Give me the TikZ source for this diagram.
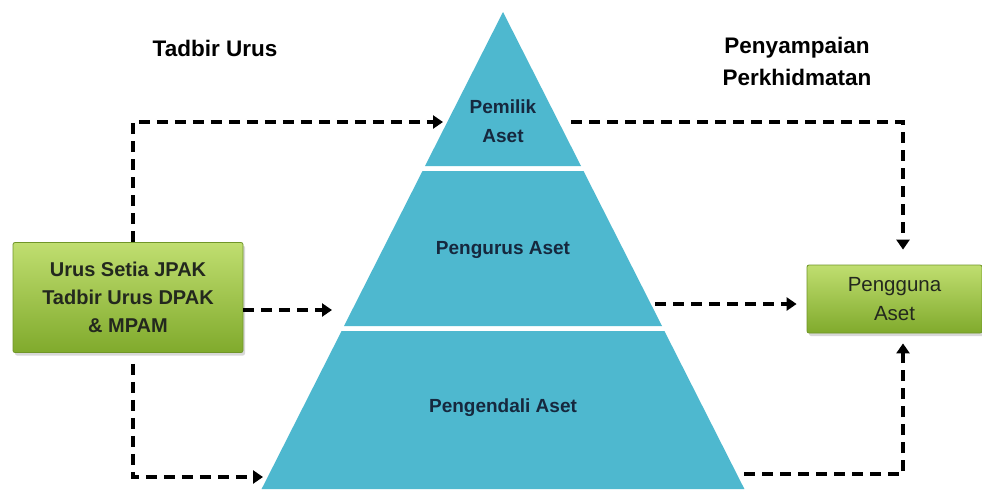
\documentclass[tikz,border=0pt]{standalone}
\usepackage{fontspec}
\setmainfont{Liberation Sans}
\usetikzlibrary{arrows.meta,shadows}
\definecolor{pyr}{RGB}{78,184,207}
\definecolor{pyrtext}{RGB}{22,40,62}
\definecolor{gtop}{RGB}{192,222,112}
\definecolor{gbot}{RGB}{128,170,44}
\definecolor{gborder}{RGB}{112,150,40}
\definecolor{boxtext}{RGB}{35,40,30}
\begin{document}
\begin{tikzpicture}[x=1pt,y=-1pt,
  tier/.style={fill=pyr,draw=none},
  flow/.style={line width=4.4pt,dash pattern=on 11pt off 7pt,
    -{Triangle[length=10pt,width=13pt]}},
  greenbox/.style={draw=gborder,line width=0.8pt,top color=gtop,bottom color=gbot,
    rounded corners=2pt,drop shadow={shadow xshift=2pt,shadow yshift=-3pt,opacity=0.3}},
  heading/.style={font=\bfseries\fontsize{22.5}{32}\selectfont,align=center,text=black},
  tierlabel/.style={font=\bfseries\fontsize{19}{29}\selectfont,align=center,text=pyrtext}
]
\useasboundingbox (0,0) rectangle (982,491);
\fill[white] (0,0) rectangle (982,491);

% pyramid tiers
\fill[tier] (503,12) -- (581,166) -- (425,166) -- cycle;
\fill[tier] (422.5,171) -- (583.5,171) -- (662,326) -- (344,326) -- cycle;
\fill[tier] (341.6,331) -- (664.4,331) -- (744.4,489) -- (261.6,489) -- cycle;

% connector end points on the pyramid
\coordinate (pemW) at (443,122);
\coordinate (pemE) at (571,122);
\coordinate (pgW) at (332,310);
\coordinate (pgE) at (655,304);
\coordinate (peW) at (263,477);
\coordinate (peE) at (744,474);

% labels
\node[tierlabel] (pemilik) at (503,121) {Pemilik\\Aset};
\node[tierlabel] (pengurus) at (503,250) {Pengurus Aset};
\node[tierlabel] (pengendali) at (503,408) {Pengendali Aset};

\node[heading] (tadbir) at (215,48) {Tadbir Urus};
\node[heading] (penyampaian) at (797,61) {Penyampaian\\Perkhidmatan};

% boxes
\node[greenbox,minimum width=230pt,minimum height=110pt,align=center,
  font=\bfseries\fontsize{20}{28}\selectfont,text=boxtext] (src) at (128,297.5)
  {Urus Setia JPAK\\Tadbir Urus DPAK\\\& MPAM};
\node[greenbox,minimum width=175pt,minimum height=68pt,align=center,
  font=\fontsize{20.5}{29}\selectfont,text=boxtext] (tgt) at (894.5,299)
  {Pengguna\\Aset};

% connectors
\draw[flow] ([xshift=5pt]src.north) |- (pemW);
\draw[flow] (src.east |- pgW) -- (pgW);
\draw[flow,shorten <=11pt] ([xshift=5pt]src.south) |- (peW);

\draw[flow,shorten >=15pt] (pemE) -| ([xshift=8.5pt]tgt.north);
\draw[flow,shorten >=10pt] (pgE) -- (tgt.west |- pgE);
\draw[flow,shorten >=10pt] (peE) -| ([xshift=8.5pt]tgt.south);
\end{tikzpicture}
\end{document}
